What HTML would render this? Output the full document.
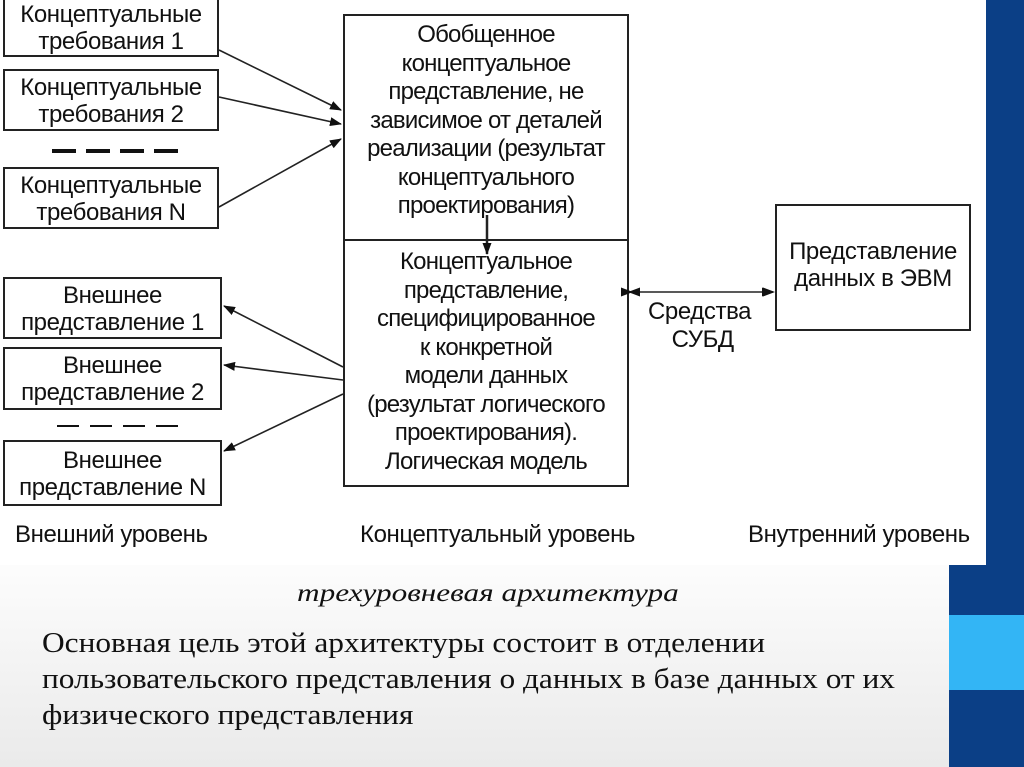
<!DOCTYPE html>
<html><head><meta charset="utf-8"><style>
body{margin:0;width:1024px;height:767px;overflow:hidden;background:linear-gradient(#fff 0%,#fff 70%,#eaeaea 100%);position:relative;font-family:"Liberation Sans",sans-serif}
.img{position:absolute;left:0;top:0;width:986px;height:565px;background:#fff}
.b{position:absolute;border:2px solid #222;box-sizing:border-box;text-align:center;font-size:24px;line-height:27px;color:#111;letter-spacing:-0.4px}
.t{position:absolute;font-size:24px;color:#111;letter-spacing:-0.4px;white-space:nowrap}
.c{position:absolute;left:343px;width:286px;text-align:center;font-size:24px;line-height:28.5px;color:#111;letter-spacing:-0.8px}
</style></head><body>
<div class="img"></div>
<div style="position:absolute;left:986px;top:0;width:38px;height:767px;background:#0b3f86"></div>
<div style="position:absolute;left:949px;top:565px;width:75px;height:202px;background:#0b3f86"></div>
<div style="position:absolute;left:949px;top:615px;width:75px;height:75px;background:#33b5f5"></div>

<div class="b" style="left:3px;top:-4px;width:216px;height:61px;padding-top:3px">Концептуальные<br>требования 1</div>
<div class="b" style="left:3px;top:69px;width:216px;height:62px;padding-top:3px">Концептуальные<br>требования 2</div>
<div class="b" style="left:3px;top:167px;width:216px;height:62px;padding-top:3px">Концептуальные<br>требования N</div>
<div class="b" style="left:3px;top:277px;width:219px;height:62px;padding-top:3px">Внешнее<br>представление 1</div>
<div class="b" style="left:3px;top:347px;width:219px;height:63px;padding-top:3px">Внешнее<br>представление 2</div>
<div class="b" style="left:3px;top:440px;width:219px;height:66px;padding-top:5px">Внешнее<br>представление N</div>
<div class="b" style="left:343px;top:14px;width:286px;height:473px"></div>
<div class="c" style="top:21px">Обобщенное<br>концептуальное<br>представление, не<br>зависимое от деталей<br>реализации (результат<br>концептуального<br>проектирования)</div>
<div class="c" style="top:248px">Концептуальное<br>представление,<br>специфицированное<br>к конкретной<br>модели данных<br>(результат логического<br>проектирования).<br>Логическая модель</div>
<div style="position:absolute;left:343px;top:239px;width:286px;height:2px;background:#222"></div>
<div class="b" style="left:775px;top:204px;width:196px;height:127px;padding-top:32px">Представление<br>данных в ЭВМ</div>
<div class="t" style="left:648px;top:298px;text-align:center;line-height:28px">Средства<br>&nbsp;СУБД</div>
<div class="t" style="left:15px;top:521px">Внешний уровень</div>
<div class="t" style="left:360px;top:521px">Концептуальный уровень</div>
<div class="t" style="left:748px;top:521px">Внутренний уровень</div>

<svg width="1024" height="767" style="position:absolute;left:0;top:0">
<defs><marker id="a" markerWidth="12" markerHeight="9" refX="11" refY="4.5" orient="auto" markerUnits="userSpaceOnUse"><path d="M0,0L12,4.5L0,9z" fill="#111"/></marker></defs>
<g stroke="#222" stroke-width="1.6" fill="none">
<line x1="219" y1="50" x2="341" y2="110" marker-end="url(#a)"/>
<line x1="219" y1="97" x2="341" y2="124" marker-end="url(#a)"/>
<line x1="219" y1="207" x2="341" y2="139" marker-end="url(#a)"/>
<line x1="343" y1="367" x2="224" y2="306" marker-end="url(#a)"/>
<line x1="343" y1="380" x2="224" y2="365" marker-end="url(#a)"/>
<line x1="343" y1="394" x2="224" y2="451" marker-end="url(#a)"/>
<line x1="487" y1="215" x2="487" y2="254" stroke-width="2.5" marker-end="url(#a)"/>
<line x1="632" y1="292" x2="773" y2="292" marker-end="url(#a)" marker-start="url(#a)"/>
</g>
<g stroke="#111" stroke-width="4"><line x1="52" y1="151" x2="180" y2="151" stroke-dasharray="24,10"/></g>
<g stroke="#111" stroke-width="2"><line x1="57" y1="426" x2="182" y2="426" stroke-dasharray="22,11"/></g>
<path d="M628,292 l12,-4.5 v9z M775,292 l-12,-4.5 v9z" fill="#111"/>
</svg>

<div style="position:absolute;left:297px;top:580px;white-space:nowrap;font-family:'Liberation Serif',serif;font-style:italic;font-size:25px;color:#111;transform:scaleX(1.25);transform-origin:left">трехуровневая архитектура</div>
<div style="position:absolute;left:42px;top:626px;white-space:nowrap;font-family:'Liberation Serif',serif;font-size:28px;line-height:36px;color:#111;transform:scaleX(1.12);transform-origin:left">Основная цель этой архитектуры состоит в отделении<br>пользовательского представления о данных в базе данных от их<br>физического представления</div>
</body></html>
